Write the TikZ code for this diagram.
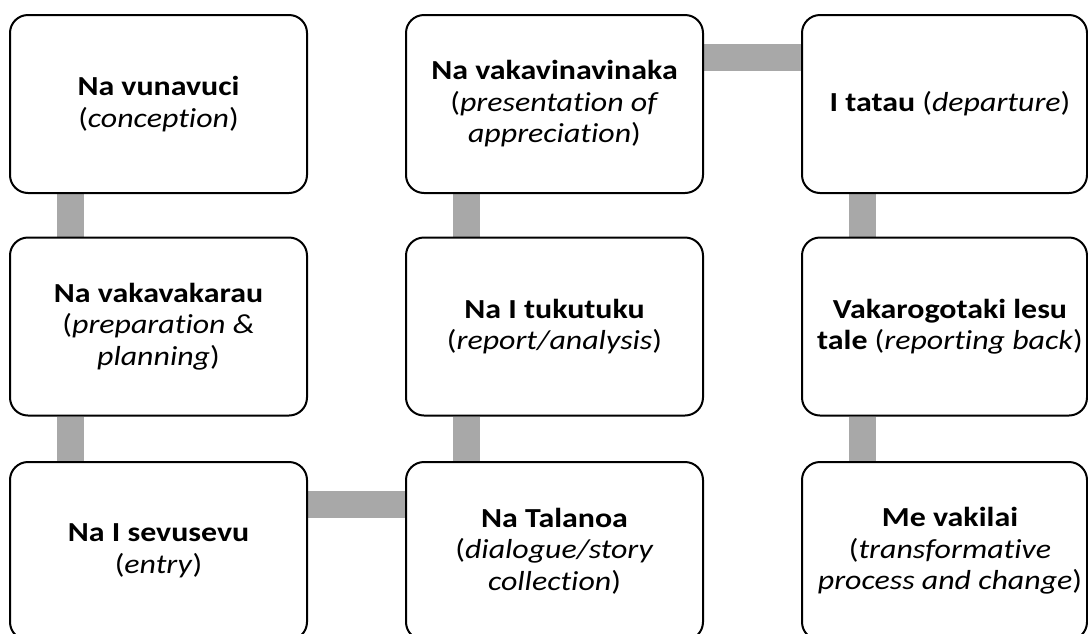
\documentclass[tikz,border=0pt]{standalone}
\usepackage{fontspec}
\setmainfont{Carlito}[Ligatures=NoCommon]
\usetikzlibrary{calc,backgrounds}
\definecolor{bargray}{RGB}{168,168,168}
\newcommand\sx[1]{\scalebox{1.16}[1]{#1}}
\begin{document}
\begin{tikzpicture}[x=1pt,y=-1pt,
  txt/.style={align=center, inner sep=0pt, font=\fontsize{27.5}{31.5}\selectfont},
  box/.style={txt, draw=black, line width=2pt, rounded corners=18pt, fill=white,
    minimum height=178pt},
  colab/.style={minimum width=297pt},
  colc/.style={minimum width=285pt},
  bar/.style={draw=bargray, line width=27pt}]
\useasboundingbox (0,0) rectangle (1088,633);
\clip (0,0) rectangle (1088,633);
% column 1
\node[box,colab] (a1) at (158.5,104) {\sx{\textbf{Na vunavuci}}\\\sx{(\textit{conception})}};
\node[box,colab] (a2) at (158.5,326.5) {\sx{\textbf{Na vakavakarau}}\\\sx{(\textit{preparation \&}}\\\sx{\textit{planning})}};
\node[box,colab] (a3) at (158.5,551) {\sx{\textbf{Na I sevusevu}}\\\sx{(\textit{entry})}};
% column 2
\node[box,colab] (b1) at (554.5,104) {\sx{\textbf{Na vakavinavinaka}}\\\sx{(\textit{presentation of}}\\\sx{\textit{appreciation})}};
\node[box,colab] (b2) at (554.5,326.5) {\sx{\textbf{Na I tukutuku}}\\\sx{(\textit{report/analysis})}};
\node[box,colab] (b3) at (554.5,551) {\sx{\textbf{Na Talanoa}}\\\sx{(\textit{dialogue/story}}\\\sx{\textit{collection})}};
% column 3
\node[box,colc,label={[txt,xshift=5.5pt]center:{\sx{\textbf{I tatau} (\textit{departure})}}}] (c1) at (944.5,104) {};
\node[box,colc,label={[txt,xshift=5.5pt]center:{\sx{\textbf{Vakarogotaki lesu}}\\\sx{\textbf{tale} (\textit{reporting back})}}}] (c2) at (944.5,326.5) {};
\node[box,colc,label={[txt,xshift=5.5pt]center:{\sx{\textbf{Me vakilai}}\\\sx{(\textit{transformative}}\\\sx{\textit{process and change})}}}] (c3) at (944.5,551) {};
% connectors
\begin{scope}[on background layer]
\draw[bar] ($(a1.south west)+(61.5,0)$) -- ($(a2.north west)+(61.5,0)$);
\draw[bar] ($(a2.south west)+(61.5,0)$) -- ($(a3.north west)+(61.5,0)$);
\draw[bar] ($(a3.north east)+(0,43.5)$) -- ($(b3.north west)+(0,43.5)$);
\draw[bar] ($(b3.north west)+(61.5,0)$) -- ($(b2.south west)+(61.5,0)$);
\draw[bar] ($(b2.north west)+(61.5,0)$) -- ($(b1.south west)+(61.5,0)$);
\draw[bar] ($(b1.north east)+(0,43.5)$) -- ($(c1.north west)+(0,43.5)$);
\draw[bar] ($(c1.south west)+(61.5,0)$) -- ($(c2.north west)+(61.5,0)$);
\draw[bar] ($(c2.south west)+(61.5,0)$) -- ($(c3.north west)+(61.5,0)$);
\end{scope}
\end{tikzpicture}
\end{document}
